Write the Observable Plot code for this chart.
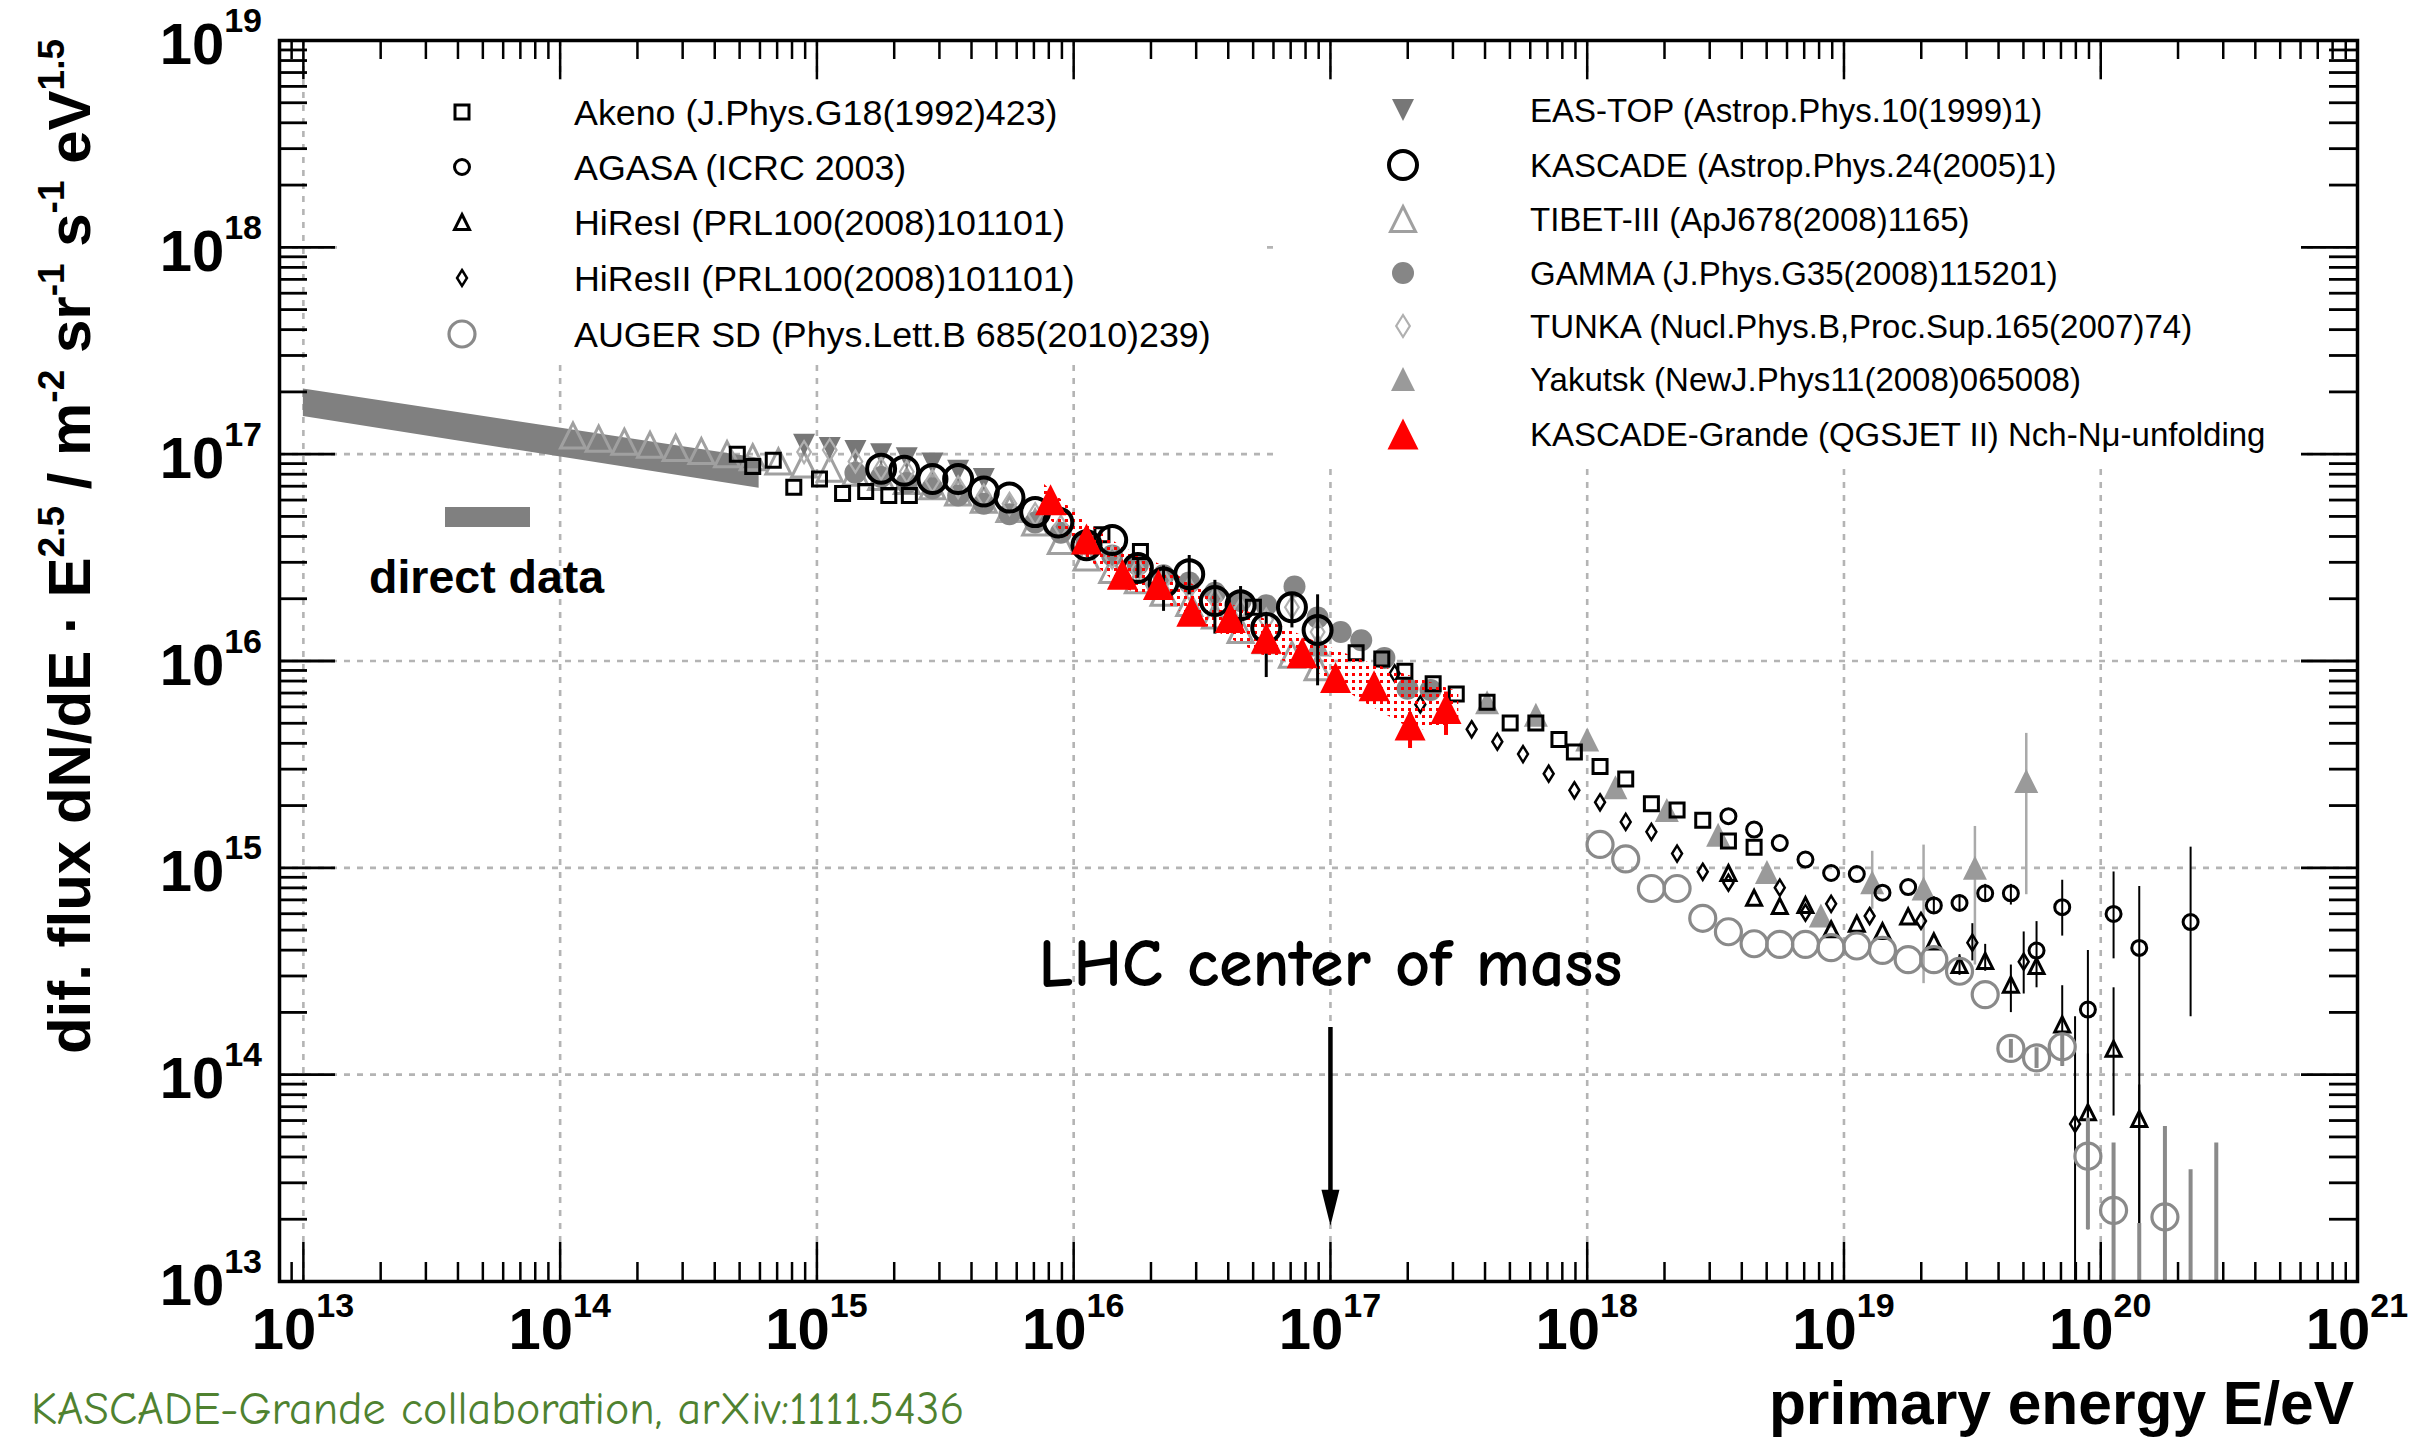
<!DOCTYPE html>
<html><head><meta charset="utf-8">
<script src="https://cdn.jsdelivr.net/npm/d3@7"></script>
<script src="https://cdn.jsdelivr.net/npm/@observablehq/plot@0.6"></script>
<style>
html,body{margin:0;padding:0;background:#fff;}
#chart{width:2432px;height:1439px;}
svg{display:block}
</style></head><body><div id="chart"></div>
<script>
// ---------- DATA (log10 E/eV, log10 flux*E^2.5) ----------
const directBand = [[13.0, 17.182, 17.315], [14.775, 16.835, 16.98]]; // [logE, lo, hi]
const tibet = [[14.05,17.09],[14.15,17.075],[14.25,17.06],[14.35,17.045],[14.45,17.03],[14.55,17.015],[14.65,17.0],[14.75,16.985],[14.85,16.965],[14.95,16.95],[15.05,16.93],[15.15,16.91],[15.25,16.89],[15.35,16.87],[15.45,16.845],[15.55,16.815],[15.65,16.78],[15.75,16.735],[15.85,16.67],[15.95,16.58],[16.05,16.50],[16.15,16.44],[16.25,16.39],[16.35,16.33],[16.45,16.28],[16.55,16.22],[16.65,16.15],[16.75,16.10],[16.85,16.03],[16.95,15.97]];
const eastop = [[14.95,17.045],[15.05,17.03],[15.15,17.015],[15.25,17.0],[15.35,16.98],[15.45,16.955],[15.55,16.92],[15.65,16.88]];
const gamma = [[15.15,16.91],[15.25,16.89],[15.35,16.86],[15.45,16.835],[15.55,16.80],[15.65,16.76],[15.75,16.71],[15.85,16.67],[15.95,16.62],[16.05,16.57],[16.15,16.51],[16.25,16.465],[16.35,16.415],[16.45,16.38],[16.55,16.33],[16.65,16.29],[16.75,16.27],[16.86,16.36],[16.95,16.21],[17.04,16.14],[17.12,16.10],[17.21,16.015],[17.30,15.866],[17.39,15.86]];
const tunka = [[14.95,17.01],[15.05,17.02],[15.15,16.965],[15.25,16.93],[15.35,16.915],[15.45,16.87],[15.55,16.84],[15.65,16.80],[15.75,16.76],[15.85,16.71],[15.95,16.65],[16.05,16.56],[16.15,16.50],[16.25,16.44],[16.35,16.39],[16.45,16.35],[16.55,16.30],[16.65,16.25],[16.75,16.20],[16.85,16.26],[16.95,16.14]];
const yakutsk = [[16.95,16.08],[17.61,15.80],[17.80,15.74],[18.00,15.62],[18.11,15.39],[18.31,15.28],[18.51,15.16],[18.70,14.98],[18.91,14.77],[19.11,14.93],[19.31,14.90],[19.51,15.00],[19.71,15.42]];
const yakutskErr = [[19.11,14.80,15.08],[19.31,14.44,15.11],[19.51,14.53,15.20],[19.71,14.87,15.65]];
const akeno = [[14.69,17.00],[14.75,16.94],[14.83,16.97],[14.91,16.84],[15.01,16.88],[15.10,16.81],[15.19,16.82],[15.28,16.80],[15.36,16.80],[16.11,16.61],[16.26,16.53],[16.70,16.26],[17.10,16.04],[17.20,16.01],[17.29,15.95],[17.40,15.89],[17.49,15.84],[17.61,15.80],[17.70,15.70],[17.80,15.70],[17.89,15.62],[17.95,15.56],[18.05,15.49],[18.15,15.43],[18.25,15.31],[18.35,15.28],[18.45,15.23],[18.55,15.13],[18.65,15.10]];
const agasa = [[18.55,15.25],[18.65,15.185],[18.75,15.12],[18.85,15.04],[18.95,14.975],[19.05,14.97],[19.15,14.88],[19.25,14.907],[19.35,14.818],[19.45,14.83],[19.55,14.877],[19.65,14.877],[19.75,14.60],[19.85,14.81],[19.95,14.315],[20.05,14.777],[20.15,14.613],[20.35,14.738]];
const agasaErr = [[19.35,14.78,14.86],[19.45,14.79,14.87],[19.55,14.84,14.92],[19.65,14.82,14.92],[19.75,14.42,14.74],[19.85,14.67,14.94],[19.95,13.25,14.60],[20.05,14.56,14.98],[20.15,12.5,14.91],[20.35,14.28,15.10]];
const hires1 = [[18.55,14.975],[18.65,14.855],[18.75,14.815],[18.85,14.82],[18.95,14.703],[19.05,14.73],[19.15,14.694],[19.25,14.765],[19.35,14.644],[19.45,14.53],[19.55,14.55],[19.65,14.435],[19.75,14.525],[19.85,14.243],[19.95,13.818],[20.05,14.125],[20.15,13.786]];
const hires1Err = [[19.45,14.48,14.58],[19.55,14.50,14.63],[19.65,14.30,14.53],[19.85,14.04,14.43],[19.95,13.30,14.10],[20.05,13.80,14.42],[20.15,12.5,13.95]];
const hires2 = [[17.25,15.94],[17.35,15.79],[17.55,15.67],[17.65,15.61],[17.75,15.55],[17.85,15.455],[17.95,15.375],[18.05,15.317],[18.15,15.222],[18.25,15.174],[18.35,15.069],[18.45,14.981],[18.55,14.928],[18.75,14.904],[18.85,14.783],[18.95,14.826],[19.10,14.767],[19.30,14.743],[19.50,14.638],[19.70,14.546],[19.90,13.762]];
const hires2Err = [[19.5,14.55,14.73],[19.7,14.39,14.69],[19.9,12.5,14.28]];
const auger = [[18.05,15.113],[18.15,15.043],[18.25,14.90],[18.35,14.90],[18.45,14.756],[18.55,14.691],[18.65,14.633],[18.75,14.63],[18.85,14.63],[18.95,14.614],[19.05,14.622],[19.15,14.601],[19.25,14.556],[19.35,14.556],[19.45,14.50],[19.55,14.387],[19.65,14.127],[19.75,14.081],[19.85,14.135],[19.95,13.606],[20.05,13.344],[20.25,13.312]];
const augerErr = [[19.65,14.08,14.17],[19.75,14.03,14.13],[19.85,14.04,14.20],[19.95,13.25,13.79],[20.05,12.5,13.67],[20.15,12.5,13.28],[20.25,12.5,13.75],[20.35,12.5,13.54],[20.45,12.5,13.67]];
const kascade = [[15.25,16.93],[15.34,16.92],[15.45,16.88],[15.55,16.88],[15.65,16.82],[15.75,16.79],[15.85,16.72],[15.94,16.67],[16.05,16.56],[16.15,16.585],[16.25,16.45],[16.35,16.38],[16.45,16.42],[16.55,16.29],[16.65,16.27],[16.75,16.16],[16.85,16.26],[16.95,16.15]];
const kascadeErr = [[16.25,16.40,16.50],[16.35,16.24,16.46],[16.45,16.32,16.51],[16.55,16.13,16.39],[16.65,16.14,16.36],[16.75,15.92,16.22],[16.85,16.16,16.32],[16.95,15.88,16.32]];
const kg = [[15.91,16.78],[16.05,16.59],[16.19,16.42],[16.33,16.37],[16.46,16.24],[16.61,16.21],[16.75,16.11],[16.89,16.04],[17.02,15.92],[17.17,15.88],[17.31,15.69],[17.45,15.77]];
const kgErr = [[16.33,16.33,16.41],[16.46,16.20,16.28],[17.31,15.577,15.75],[17.45,15.64,15.85]];
const kgBand = [[15.88,16.72,16.86],[16.05,16.50,16.67],[16.19,16.35,16.55],[16.33,16.30,16.47],[16.53,16.16,16.32],[16.73,16.03,16.21],[16.93,15.96,16.10],[17.13,15.80,16.00],[17.33,15.66,15.92],[17.50,15.70,15.85]];
const lhcArrow = [{e: 17, top: 14.228, tip: 13.27}];
const lhcLabel = [{e: 17, f: 14.43, text: "LHC center of mass"}];

// tick labels (exponents)
const xTickExp = [13,14,15,16,17,18,19,20,21];
const yTickExp = [13,14,15,16,17,18,19];
const xGridExp = [13,14,15,16,17,18,19,20];
const yGridExp = [13,14,15,16,17,18,19];

const legendLeft = [
  ["akeno","Akeno (J.Phys.G18(1992)423)"],
  ["agasa","AGASA (ICRC 2003)"],
  ["hires1","HiResI (PRL100(2008)101101)"],
  ["hires2","HiResII (PRL100(2008)101101)"],
  ["auger","AUGER SD (Phys.Lett.B 685(2010)239)"]
];
const legendRight = [
  ["eastop","EAS-TOP (Astrop.Phys.10(1999)1)"],
  ["kascade","KASCADE (Astrop.Phys.24(2005)1)"],
  ["tibet","TIBET-III (ApJ678(2008)1165)"],
  ["gamma","GAMMA (J.Phys.G35(2008)115201)"],
  ["tunka","TUNKA (Nucl.Phys.B,Proc.Sup.165(2007)74)"],
  ["yakutsk","Yakutsk (NewJ.Phys11(2008)065008)"],
  ["kg","KASCADE-Grande (QGSJET II) Nch-N\u03bc-unfolding"]
];

// ---------- symbols ----------
const mk = fn => ({draw(c, size){ const r = Math.sqrt(size/Math.PI); fn(c, r); }});
const SQUARE = mk((c,r)=>{c.moveTo(-r,-r);c.lineTo(r,-r);c.lineTo(r,r);c.lineTo(-r,r);c.closePath();});
const CIRCLE = mk((c,r)=>{c.moveTo(r,0);c.arc(0,0,r,0,2*Math.PI);c.closePath();});
const TRIUP = mk((c,r)=>{c.moveTo(0,-r);c.lineTo(r,r);c.lineTo(-r,r);c.closePath();});
const TRIDOWN = mk((c,r)=>{c.moveTo(0,r);c.lineTo(r,-r);c.lineTo(-r,-r);c.closePath();});
const DIAMOND = mk((c,r)=>{c.moveTo(0,-r);c.lineTo(0.62*r,0);c.lineTo(0,r);c.lineTo(-0.62*r,0);c.closePath();});
const ARROWHEAD = mk((c,r)=>{c.moveTo(0,0);c.lineTo(-0.5*r,-2*r);c.lineTo(0.5*r,-2*r);c.closePath();});

const styles = {
  tibet:   {data: tibet,   symbol: TRIUP,   r: 12.5, fill: "none", stroke: "#a0a0a0", sw: 3},
  eastop:  {data: eastop,  symbol: TRIDOWN, r: 11,   fill: "#777777", stroke: "none", sw: 0},
  gamma:   {data: gamma,   symbol: CIRCLE,  r: 11,   fill: "#868686", stroke: "none", sw: 0},
  tunka:   {data: tunka,   symbol: DIAMOND, r: 11,   fill: "none", stroke: "#b0b0b0", sw: 2.2},
  yakutsk: {data: yakutsk, symbol: TRIUP,   r: 12,   fill: "#9a9a9a", stroke: "none", sw: 0, err: yakutskErr, errColor: "#aaaaaa", errW: 2.5},
  akeno:   {data: akeno,   symbol: SQUARE,  r: 7,    fill: "none", stroke: "#000", sw: 3},
  agasa:   {data: agasa,   symbol: CIRCLE,  r: 7.5,  fill: "none", stroke: "#000", sw: 3, err: agasaErr, errColor: "#000", errW: 2},
  hires1:  {data: hires1,  symbol: TRIUP,   r: 7.5,  fill: "none", stroke: "#000", sw: 3, err: hires1Err, errColor: "#000", errW: 2},
  hires2:  {data: hires2,  symbol: DIAMOND, r: 8,    fill: "none", stroke: "#000", sw: 2.5, err: hires2Err, errColor: "#000", errW: 2},
  auger:   {data: auger,   symbol: CIRCLE,  r: 13,   fill: "none", stroke: "#8a8a8a", sw: 3.2, err: augerErr, errColor: "#8a8a8a", errW: 4},
  kascade: {data: kascade, symbol: CIRCLE,  r: 14,   fill: "none", stroke: "#000", sw: 4, err: kascadeErr, errColor: "#000", errW: 3},
  kg:      {data: kg,      symbol: TRIUP,   r: 15.5, fill: "#ff0000", stroke: "none", sw: 0, err: kgErr, errColor: "#ff0000", errW: 4}
};
const drawOrder = ["tibet","eastop","gamma","tunka","yakutsk","akeno","agasa","hires1","hires2","auger","KGBAND","kascade","kg"];

// ---------- layout ----------
const W = 2432, H = 1439, mL = 279, mR = 75, mT = 40, mB = 158;
const fw = W - mL - mR, fh = H - mT - mB;
const FONT = "'Liberation Sans', Arial, Helvetica, sans-serif";
const COMIC = "'Comic Sans MS','Comic Neue',Lato,sans-serif";
const p10 = v => 10 ** v;
const X = d => p10(d[0]), Y = d => p10(d[1]);

const xMinor = [9e12].concat(d3.range(13, 21).flatMap(e => d3.range(2, 10).map(m => m * 10 ** e)));
const yMinor = d3.range(13, 19).flatMap(e => d3.range(2, 10).map(m => m * 10 ** e));
const xMajor = xTickExp.map(p10), yMajor = yTickExp.map(p10);

const marks = [
  Plot.gridX(xGridExp.map(p10), {stroke: "#b4b4b4", strokeOpacity: 1, strokeWidth: 2.6, strokeDasharray: "6,7"}),
  Plot.gridY(yGridExp.map(p10), {stroke: "#b4b4b4", strokeOpacity: 1, strokeWidth: 2.6, strokeDasharray: "6,7"}),
  Plot.areaY(directBand, {x: X, y1: d => p10(d[1]), y2: d => p10(d[2]), fill: "#808080"})
];
for (const key of drawOrder) {
  if (key === "KGBAND") {
    marks.push(Plot.areaY(kgBand, {x: X, y1: d => p10(d[1]), y2: d => p10(d[2]), fill: "url(#kgDots)"}));
    continue;
  }
  const s = styles[key];
  if (s.err) marks.push(Plot.ruleX(s.err, {x: X, y1: d => p10(d[1]), y2: d => p10(d[2]), stroke: s.errColor, strokeWidth: s.errW, clip: true}));
  marks.push(Plot.dot(s.data, {x: X, y: Y, symbol: s.symbol, r: s.r, fill: s.fill, stroke: s.stroke, strokeWidth: s.sw, clip: true}));
}
marks.push(
  Plot.ruleX(lhcArrow, {x: d => p10(d.e), y1: d => p10(d.top), y2: d => p10(d.tip + 0.12), stroke: "#000", strokeWidth: 4.5}),
  Plot.dot(lhcArrow, {x: d => p10(d.e), y: d => p10(d.tip), symbol: ARROWHEAD, r: 18, fill: "#000", stroke: "none"}),
  Plot.text(lhcLabel, {x: d => p10(d.e), y: d => p10(d.f), text: "text", fontSize: 68, fontWeight: 600, fontFamily: COMIC, fill: "#000", textAnchor: "middle", lineAnchor: "bottom"}),
  // ticks inward on all four sides
  Plot.tickX(xMinor, {x: d => d, insetTop: fh - 19, stroke: "#000", strokeWidth: 2.5}),
  Plot.tickX(xMajor, {x: d => d, insetTop: fh - 39, stroke: "#000", strokeWidth: 2.5}),
  Plot.tickX(xMinor, {x: d => d, insetBottom: fh - 19, stroke: "#000", strokeWidth: 2.5}),
  Plot.tickX(xMajor, {x: d => d, insetBottom: fh - 39, stroke: "#000", strokeWidth: 2.5}),
  Plot.tickY(yMinor, {y: d => d, insetRight: fw - 28, stroke: "#000", strokeWidth: 2.8}),
  Plot.tickY(yMajor, {y: d => d, insetRight: fw - 56, stroke: "#000", strokeWidth: 2.8}),
  Plot.tickY(yMinor, {y: d => d, insetLeft: fw - 28, stroke: "#000", strokeWidth: 2.8}),
  Plot.tickY(yMajor, {y: d => d, insetLeft: fw - 56, stroke: "#000", strokeWidth: 2.8}),
  Plot.frame({stroke: "#000", strokeWidth: 3.5})
);

const chart = Plot.plot({
  width: W, height: H,
  marginLeft: mL, marginRight: mR, marginTop: mT, marginBottom: mB,
  x: {type: "log", domain: [10 ** 12.907, 1e21], axis: null},
  y: {type: "log", domain: [1e13, 1e19], axis: null},
  style: {background: "#fff", fontFamily: FONT, overflow: "visible"},
  marks
});
document.getElementById("chart").appendChild(chart);

// ---------- decorations using the plot's scales ----------
const svg = d3.select(chart);
const xs = chart.scale("x"), ys = chart.scale("y");
const defs = svg.insert("defs", ":first-child");
const pat = defs.append("pattern").attr("id", "kgDots").attr("patternUnits", "userSpaceOnUse").attr("width", 7).attr("height", 7);
pat.append("rect").attr("x", 1).attr("y", 1).attr("width", 3).attr("height", 3).attr("fill", "#ff0000");

const deco = svg.append("g").attr("text-anchor", "start");
// legend background boxes (hide grid)
deco.append("rect").attr("x", 342).attr("y", 80).attr("width", 918).attr("height", 280).attr("fill", "#fff");
deco.append("rect").attr("x", 1276).attr("y", 80).attr("width", 1024).attr("height", 382).attr("fill", "#fff");

function symPath(s) { const p = d3.path(); s.symbol.draw(p, s.r * s.r * Math.PI); return p.toString(); }
function legend(entries, sx, tx, rows, fs) {
  entries.forEach(([key, label], i) => {
    const s = styles[key], y = rows[i];
    deco.append("path").attr("d", symPath(s)).attr("transform", `translate(${sx},${y})`)
      .attr("fill", s.fill).attr("stroke", s.stroke).attr("stroke-width", s.sw);
    deco.append("text").attr("x", tx).attr("y", y + 0.36 * fs).attr("text-anchor", "start").attr("font-family", FONT).attr("font-size", fs).attr("fill", "#000").text(label);
  });
}
legend(legendLeft, 462, 574, [112, 167, 222, 278, 334], 35.8);
legend(legendRight, 1403, 1530, [110, 165, 219, 273, 326, 379, 434], 33);

// direct data legend
deco.append("rect").attr("x", 445).attr("y", 507).attr("width", 85).attr("height", 20).attr("fill", "#808080");
deco.append("text").attr("x", 369).attr("y", 593).attr("text-anchor", "start").attr("font-family", FONT).attr("font-weight", "bold").attr("font-size", 46.5).text("direct data");

// rich text helper
function rich(sel, parts, base, supSize, rise) {
  let shifted = false;
  parts.forEach(([t, sup]) => {
    const ts = sel.append("tspan").text(t);
    if (sup && !shifted) { ts.attr("font-size", supSize).attr("dy", -rise); shifted = true; }
    else if (!sup && shifted) { ts.attr("font-size", base).attr("dy", rise); shifted = false; }
    else ts.attr("font-size", sup ? supSize : base);
  });
}
// x tick labels
xTickExp.forEach(e => {
  const t = deco.append("text").attr("x", xs.apply(p10(e))).attr("y", 1349).attr("text-anchor", "middle")
    .attr("font-family", FONT).attr("font-weight", "bold").attr("font-size", 58);
  rich(t, [["10", false], [String(e), true]], 58, 34, 32);
});
// y tick labels
yTickExp.forEach(e => {
  const t = deco.append("text").attr("x", 262).attr("y", ys.apply(p10(e)) + 24).attr("text-anchor", "end")
    .attr("font-family", FONT).attr("font-weight", "bold").attr("font-size", 58);
  rich(t, [["10", false], [String(e), true]], 58, 34, 32);
});
// axis titles
deco.append("text").attr("x", 2354).attr("y", 1424).attr("text-anchor", "end")
  .attr("font-family", FONT).attr("font-weight", "bold").attr("font-size", 60.5).text("primary energy E/eV");
const yl = deco.append("text").attr("transform", "translate(90,39) rotate(-90)").attr("text-anchor", "end")
  .attr("font-family", FONT).attr("font-weight", "bold").attr("font-size", 60);
rich(yl, [["dif. flux dN/dE \u00b7 E", false], ["2.5", true], [" / m", false], ["-2", true], [" sr", false], ["-1", true], [" s", false], ["-1", true], [" eV", false], ["1.5", true]], 60, 37, 26);
// caption
deco.append("text").attr("x", 31).attr("y", 1424).attr("text-anchor", "start").attr("font-family", COMIC)
  .attr("font-size", 46).attr("fill", "#4f8230").text("KASCADE-Grande collaboration, arXiv:1111.5436");
</script></body></html>
